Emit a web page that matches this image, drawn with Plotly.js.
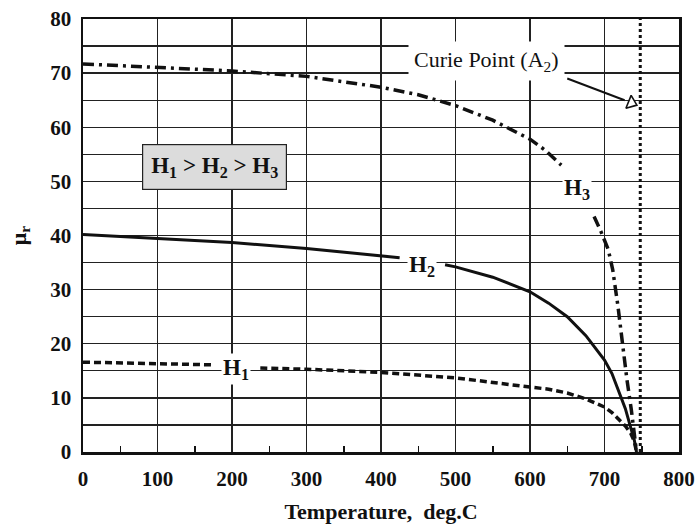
<!DOCTYPE html>
<html>
<head>
<meta charset="utf-8">
<script src="https://cdn.plot.ly/plotly-3.0.1.min.js"></script>
<style>html,body{margin:0;padding:0;background:#fff;}#chart{width:697px;height:529px;}</style>
</head>
<body>
<div id="chart"></div>
<script>
// Data (Temperature in deg.C, relative permeability mu_r)
const h1T = [0, 100, 175, null, 238, 300, 400, 500, 600, 625, 650, 675, 700, 710, 720, 728, 735, 740, 743];
const h1Mu = [16.6, 16.3, 16.1, null, 15.5, 15.3, 14.7, 13.7, 12.0, 11.6, 10.9, 9.8, 8.3, 7.3, 5.9, 4.8, 3.5, 2.0, 0];

const h2T = [0, 100, 200, 300, 400, 425, null, 486, 500, 550, 600, 625, 650, 675, 700, 710, 720, 728, 735, 740, 743];
const h2Mu = [40.2, 39.5, 38.7, 37.6, 36.3, 35.9, null, 34.6, 34.2, 32.3, 29.6, 27.5, 25.0, 21.5, 17.0, 14.5, 10.9, 8.0, 4.6, 2.2, 0];

const h3T = [0, 100, 200, 300, 400, 450, 500, 550, 600, 620, 642, null, 686, 695, 705, 711, 718, 724, 730, 736, 740, 743];
const h3Mu = [71.7, 71.1, 70.4, 69.4, 67.4, 66.0, 64.0, 61.3, 57.8, 55.8, 53.0, null, 43.5, 40.8, 37.4, 33.7, 27.0, 20.0, 13.5, 7.8, 3.5, 0];

const curieT = [748, 748];
const curieMu = [0, 80];

const arrowT = [650, 727];
const arrowMu = [69, 65];
const arrowHeadT = [736];
const arrowHeadMu = [64.5];

// y grid every 5, labels every 10
const yTickVals = [0, 5, 10, 15, 20, 25, 30, 35, 40, 45, 50, 55, 60, 65, 70, 75, 80];
const yTickText = ['0', '', '10', '', '20', '', '30', '', '40', '', '50', '', '60', '', '70', '', '80'];

const labelText = ['H<sub>1</sub>', 'H<sub>2</sub>', 'H<sub>3</sub>'];
const labelT = [205, 455, 663];
const labelMu = [15.4, 34.4, 48.5];

const serif = 'Liberation Serif, Times New Roman, serif';

const traces = [
  {x: h1T, y: h1Mu, mode: 'lines', line: {color: '#111', width: 3.5, dash: '7px,4px'}, connectgaps: false},
  {x: h2T, y: h2Mu, mode: 'lines', line: {color: '#111', width: 3}, connectgaps: false},
  {x: h3T, y: h3Mu, mode: 'lines', line: {color: '#111', width: 3.5, dash: '11px,5px,3px,5px'}, connectgaps: false},
  {x: curieT, y: curieMu, mode: 'lines', line: {color: '#111', width: 3, dash: 'dot'}},
  {x: arrowT, y: arrowMu, mode: 'lines', line: {color: '#111', width: 2}},
  {x: arrowHeadT, y: arrowHeadMu, mode: 'markers', marker: {symbol: 'triangle-right', size: 12, angle: 22, color: 'white', line: {color: '#111', width: 1.6}}}
];

const annotations = labelText.map((t, i) => ({
  x: labelT[i], y: labelMu[i], xref: 'x', yref: 'y', text: '<b>' + t + '</b>', showarrow: false,
  font: {family: serif, size: 23, color: '#111'}, bgcolor: 'white', borderpad: 1
}));
annotations.push({
  x: 177, y: 52.6, xref: 'x', yref: 'y', showarrow: false,
  text: '<b>H<sub>1</sub> &gt; H<sub>2</sub> &gt; H<sub>3</sub></b>',
  font: {family: serif, size: 23, color: '#111'},
  bgcolor: '#dcdcdc', bordercolor: '#222', borderwidth: 1.2, borderpad: 8
});
annotations.push({
  x: 542, y: 72.2, xref: 'x', yref: 'y', showarrow: false,
  text: 'Curie Point (A<sub>2</sub>)',
  font: {family: serif, size: 22, color: '#111'}, bgcolor: 'white', borderpad: 5
});

const layout = {
  width: 697, height: 529,
  margin: {l: 83, r: 18, t: 19, b: 77},
  paper_bgcolor: 'white', plot_bgcolor: 'white',
  showlegend: false,
  xaxis: {
    range: [0, 800], dtick: 100, ticks: 'inside', ticklen: 6, tickwidth: 1, tickcolor: '#222',
    showgrid: true, gridcolor: '#222', gridwidth: 1.3,
    showline: true, linecolor: '#111', linewidth: 2.5, mirror: true, zeroline: false,
    ticklabelstandoff: 6,
    tickfont: {family: serif, size: 21, color: '#111', weight: 'bold'},
    minor: {dtick: 50, ticks: 'inside', ticklen: 6, tickcolor: '#111', tickwidth: 1.5, showgrid: false},
    title: {text: '<b>Temperature,  deg.C</b>', font: {family: serif, size: 22, color: '#111'}, standoff: 14}
  },
  yaxis: {
    range: [0, 80], tickmode: 'array', tickvals: yTickVals, ticktext: yTickText,
    ticks: '', showgrid: true, gridcolor: '#222', gridwidth: 1.3,
    showline: true, linecolor: '#111', linewidth: 2.5, mirror: true, zeroline: false,
    ticklabelstandoff: 5,
    tickfont: {family: serif, size: 21, color: '#111', weight: 'bold'},
    title: {text: '<b>μ<sub>r</sub></b>', font: {family: serif, size: 22, color: '#111'}, standoff: 18}
  },
  annotations: annotations
};

Plotly.newPlot('chart', traces, layout, {displayModeBar: false, staticPlot: true});
</script>
</body>
</html>
